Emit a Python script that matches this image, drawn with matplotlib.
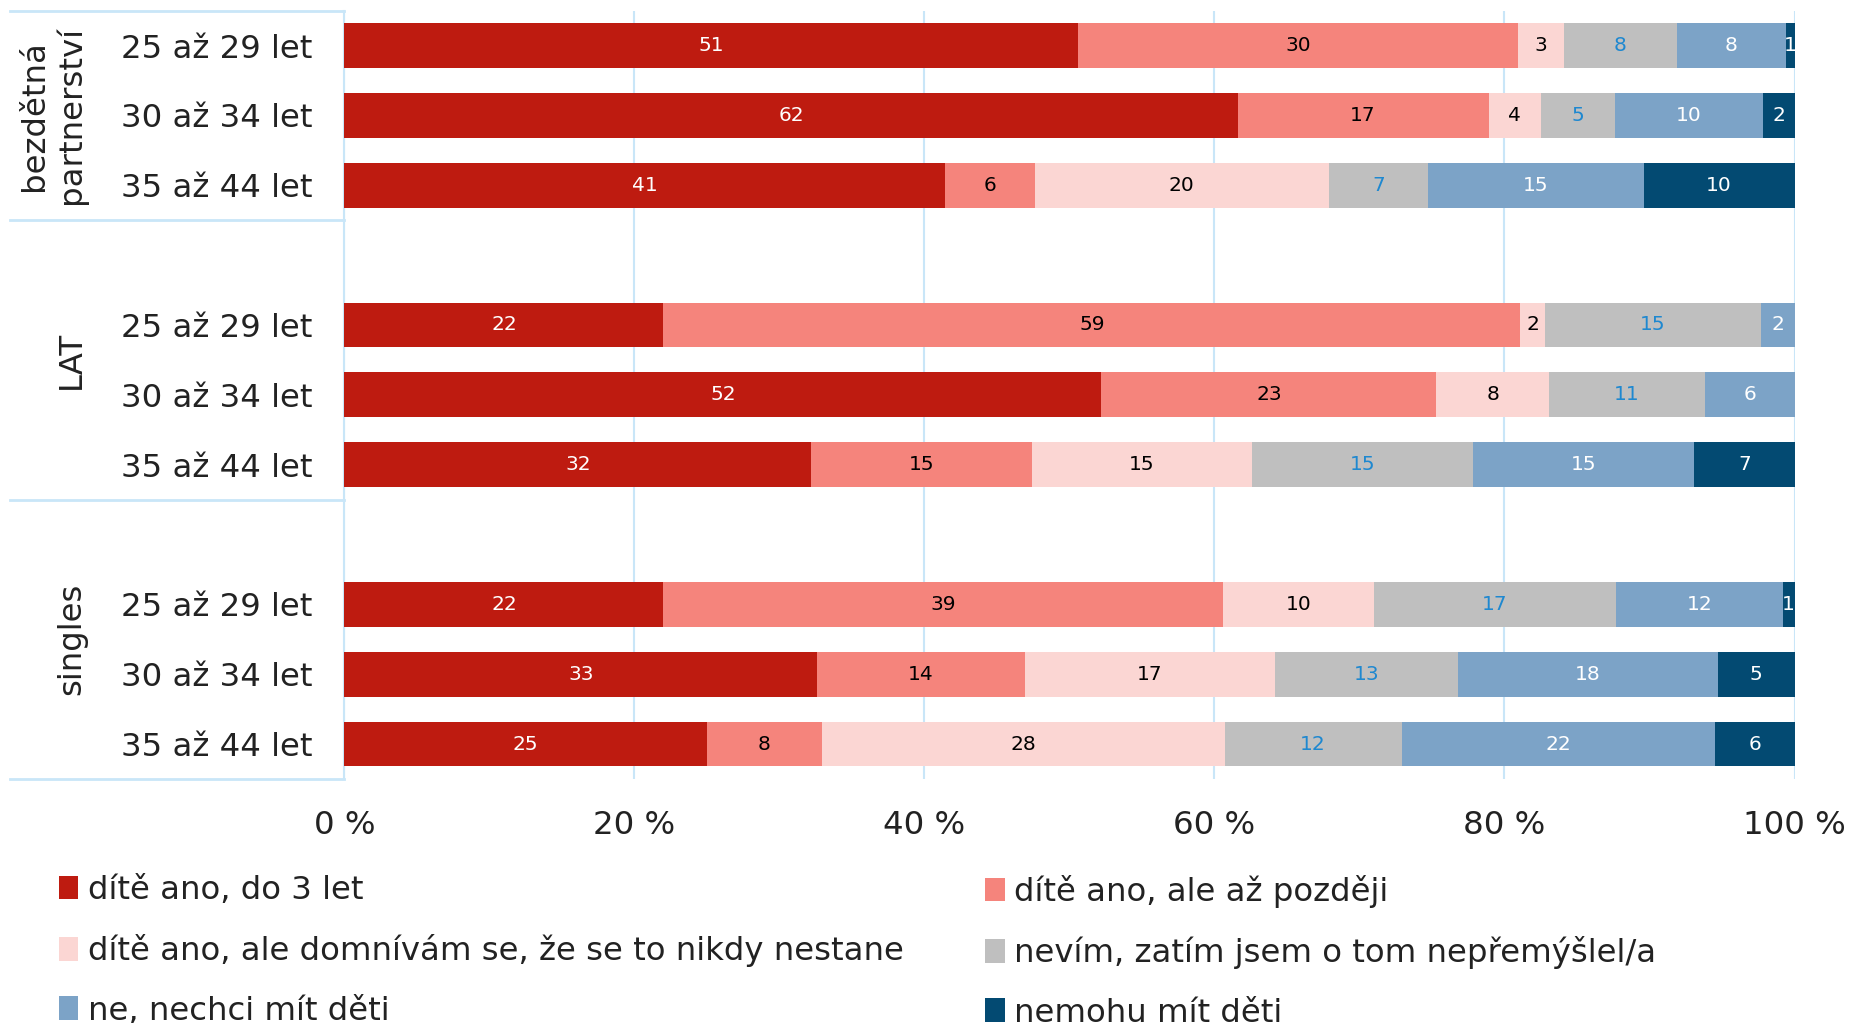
import matplotlib.pyplot as plt
import matplotlib.transforms as mtransforms

groups = ["bezdětná\npartnerství", "LAT", "singles"]
ages = ["25 až 29 let", "30 až 34 let", "35 až 44 let"]

series = ["dítě ano, do 3 let", "dítě ano, ale až později",
          "dítě ano, ale domnívám se, že se to nikdy nestane",
          "nevím, zatím jsem o tom nepřemýšlel/a",
          "ne, nechci mít děti", "nemohu mít děti"]

# rows: bezdětná 25-29, 30-34, 35-44, LAT ..., singles ...
ano_do3 = [50.6, 61.6, 41.4, 22.0, 52.2, 32.2, 22.0, 32.6, 25.0]
ano_pozdeji = [30.3, 17.3, 6.2, 59.1, 23.1, 15.2, 38.6, 14.3, 7.9]
ano_nestane = [3.2, 3.6, 20.3, 1.7, 7.8, 15.2, 10.4, 17.3, 27.8]
nevim = [7.8, 5.1, 6.8, 14.9, 10.7, 15.2, 16.7, 12.6, 12.2]
nechci = [7.5, 10.2, 14.9, 2.3, 6.2, 15.3, 11.5, 17.9, 21.6]
nemohu = [0.6, 2.2, 10.4, 0, 0, 6.9, 0.8, 5.3, 5.5]

colors = ["#BE1B10", "#F5847C", "#FBD6D3", "#BFBFBF", "#7CA3C7", "#034A72"]
text_colors = ["white", "black", "black", "#1E88D0", "white", "white"]
line_col = "#C9E6F8"
fs = 23.3

fig = plt.figure(figsize=(18.5, 10.23), dpi=100)
ax = fig.add_axes([0.1862, 0.2385, 0.7838, 0.7511])

ypos = [g * 4 + i for g in range(len(groups)) for i in range(len(ages))]
left = [0] * len(ypos)
handles = []
for vals, name, c, tc in zip([ano_do3, ano_pozdeji, ano_nestane, nevim, nechci, nemohu],
                             series, colors, text_colors):
    bars = ax.barh(ypos, vals, left=left, height=0.64, color=c, label=name, zorder=3)
    ax.bar_label(bars, labels=[f"{v:.0f}" if v > 0 else "" for v in vals],
                 label_type="center", color=tc, fontsize=14.5)
    handles.append(bars)
    left = [l + v for l, v in zip(left, vals)]

ax.set_xlim(0, 100)
ax.set_ylim(10.5, -0.5)
ax.set_xticks(range(0, 101, 20))
ax.set_xticklabels([f"{t} %" for t in range(0, 101, 20)], fontsize=fs, color="#222222")
ax.set_yticks(ypos)
ax.set_yticklabels(ages * len(groups), fontsize=fs, color="#222222")
ax.tick_params(axis="x", length=0, pad=22)
ax.tick_params(axis="y", length=0, pad=23)
ax.grid(axis="x", color=line_col, linewidth=1.5, zorder=0)
for s in ["top", "right", "bottom"]:
    ax.spines[s].set_visible(False)
ax.spines["left"].set_color(line_col)
ax.spines["left"].set_linewidth(1.5)

# table lines and group labels on the left
trans = mtransforms.blended_transform_factory(ax.transAxes, ax.transData)
bounds = [-0.5, 2.5, 6.5, 10.5]
for yb in bounds:
    ax.plot([-0.231, 0], [yb, yb], color=line_col, lw=2, transform=trans, clip_on=False)
for g, name in enumerate(groups):
    yc = (bounds[g] + bounds[g + 1]) / 2
    ax.text(-0.1774, yc, name, transform=trans, rotation=90, ha="right", va="center",
            multialignment="center", fontsize=fs, color="#222222")

# legend in two columns, row-wise order
for col, x0 in enumerate([0.0319, 0.5325]):
    fig.legend(handles[col::2], series[col::2], loc="upper left", bbox_to_anchor=(x0, 0.145),
               frameon=False, fontsize=fs, handlelength=0.6, handleheight=0.75,
               handletextpad=0.3, labelspacing=0.88, borderpad=0, borderaxespad=0,
               labelcolor="#222222")

fig.savefig("out.png", dpi=100)
